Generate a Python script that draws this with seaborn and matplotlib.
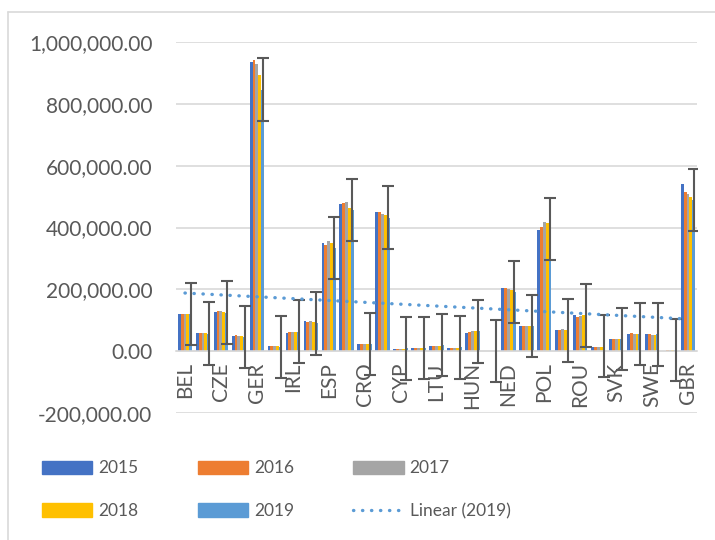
import numpy as np
import pandas as pd
import matplotlib; matplotlib.use("Agg")
import matplotlib.pyplot as plt
import matplotlib.patches as mpatches
from matplotlib.lines import Line2D
from matplotlib.ticker import FuncFormatter
import seaborn as sns

# ── DADOS ────────────────────────────────────────────────────────────────────
COUNTRIES = ["BEL", "BGR", "CZE", "DEN", "GER", "EST", "IRL", "GRE", "ESP", "FRA",
             "CRO", "ITA", "CYP", "LAT", "LTU", "LUX", "HUN", "MLT", "NED", "AUT",
             "POL", "POR", "ROU", "SLO", "SVK", "FIN", "SWE", "ISL", "GBR"]

Y2015 = [121, 59, 128, 50, 935, 16, 60, 97, 351, 476, 22, 451, 7, 10, 17, 9, 60, 1,
         204, 80, 393, 69, 116, 14, 39, 56, 54, 2, 542]
Y2016 = [121, 58, 130, 52, 941, 16, 62, 93, 342, 478, 22, 449, 7, 10, 17, 9, 62, 1,
         204, 80, 402, 70, 112, 14, 40, 58, 54, 3, 515]
Y2017 = [121, 60, 130, 50, 928, 17, 63, 97, 357, 483, 22, 445, 8, 10, 17, 10, 64, 1,
         201, 81, 418, 72, 115, 15, 40, 57, 53, 3, 507]
Y2018 = [121, 58, 128, 50, 892, 17, 63, 95, 351, 464, 22, 442, 8, 10, 17, 10, 64, 1,
         198, 80, 416, 70, 118, 15, 40, 56, 53, 3, 499]
Y2019 = [121, 57, 125, 46, 846, 14, 63, 90, 334, 456, 24, 432, 9, 11, 20, 12, 64, 1,
         192, 82, 395, 67, 116, 16, 39, 56, 54, 3, 489]
YEARS = ["2015", "2016", "2017", "2018", "2019"]
ERR_2019 = 101000        # barra de erro fixa da série 2019

COLORS = ["#4472C4", "#ED7D31", "#A5A5A5", "#FFC000", "#5B9BD5"]
TXT = "#595959"; GRID = "#D9D9D9"

sns.set_style("white")
plt.rcParams["font.family"] = ["Lato", "DejaVu Sans"]

wide = pd.DataFrame({"country": COUNTRIES, "2015": Y2015, "2016": Y2016,
                     "2017": Y2017, "2018": Y2018, "2019": Y2019})
long = wide.melt(id_vars="country", var_name="year", value_name="value")
long["value"] = long["value"] * 1000

fig = plt.figure(figsize=(7.15, 5.4), dpi=100)
ax = fig.add_axes([176/715, 1 - 413/540, (697 - 176)/715, (413 - 42)/540])

sns.barplot(data=long, x="country", y="value", hue="year", hue_order=YEARS,
            order=COUNTRIES, palette=COLORS, saturation=1, errorbar=None,
            width=0.8, legend=False, linewidth=0, edgecolor="none", ax=ax)

# barras de erro só na série 2019
bars19 = ax.containers[4]
ex = [p.get_x() + p.get_width() / 2 for p in bars19]
ey = [p.get_height() for p in bars19]
ax.errorbar(ex, ey, yerr=ERR_2019, fmt="none", ecolor=TXT, elinewidth=1.5,
            capsize=4.5, capthick=1.5, zorder=4)

# tendência linear (2019)
xi = np.arange(1, len(COUNTRIES) + 1)
coef = np.polyfit(xi, np.array(Y2019) * 1000, 1)
ax.plot(np.arange(len(COUNTRIES)), np.polyval(coef, xi), color="#5B9BD5", lw=2.4,
        linestyle=(0, (0.1, 2.6)), dash_capstyle="round", zorder=5)

ax.set_xlim(-0.5, len(COUNTRIES) - 0.5)
ax.set_ylim(-200000, 1000000)
ax.set_yticks(range(-200000, 1000001, 200000))
ax.yaxis.set_major_formatter(FuncFormatter(lambda v, _: f"{v:,.2f}"))
ax.yaxis.grid(True, color=GRID, lw=1.2)
ax.set_axisbelow(True)
ax.set_xlabel(""); ax.set_ylabel("")

for s in ["left", "top", "right"]:
    ax.spines[s].set_visible(False)
ax.spines["bottom"].set_position(("data", 0))
ax.spines["bottom"].set_color(GRID)
ax.spines["bottom"].set_linewidth(1.2)

# Excel só mostra um rótulo a cada dois
ax.set_xticks(range(len(COUNTRIES)))
ax.set_xticklabels([c if i % 2 == 0 else "" for i, c in enumerate(COUNTRIES)])
ax.tick_params(axis="y", length=0, pad=17, labelsize=15, labelcolor=TXT)
ax.tick_params(axis="x", length=0, pad=8, labelsize=15, labelcolor=TXT,
               labelrotation=90)

# legenda (ordem por linha, como no Excel)
h = [mpatches.Patch(color=c, label=y) for c, y in zip(COLORS, YEARS)]
trend = Line2D([], [], color="#5B9BD5", lw=2.4, linestyle=(0, (0.1, 2.6)),
               dash_capstyle="round", label="Linear (2019)")
handles = [h[0], h[3], h[1], h[4], h[2], trend]
leg = fig.legend(handles=handles, ncol=3, loc="center left",
                 bbox_to_anchor=(42/715, 1 - 490/540), frameon=False,
                 fontsize=12.5, handlelength=2.9, handleheight=0.85,
                 handletextpad=0.35, columnspacing=3.4, labelspacing=1.55,
                 borderpad=0, borderaxespad=0)
for t in leg.get_texts():
    t.set_color(TXT)

# moldura do gráfico
fig.add_artist(Line2D([8/715, 8/715], [0, 1 - 12/540], transform=fig.transFigure,
                      color=GRID, lw=1.2))
fig.add_artist(Line2D([8/715, 1], [1 - 12/540, 1 - 12/540], transform=fig.transFigure,
                      color=GRID, lw=1.2))

fig.savefig("out.png", dpi=100)
